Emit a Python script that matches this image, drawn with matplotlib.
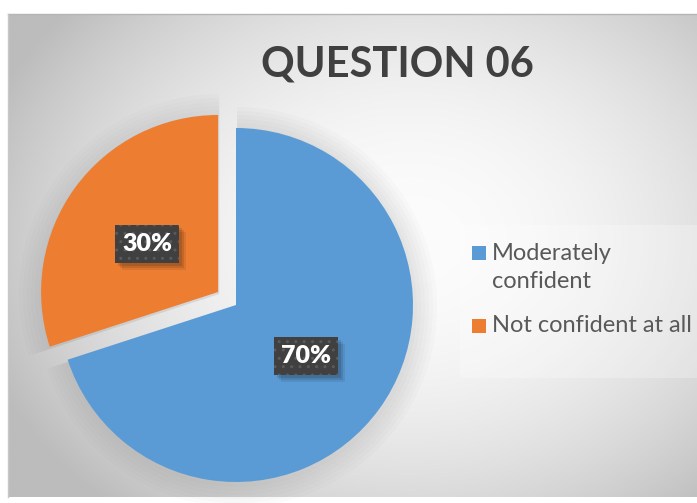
import numpy as np
import matplotlib
matplotlib.use("Agg")
import matplotlib.pyplot as plt
from matplotlib.patches import Wedge, Rectangle

labels = ["Moderately\nconfident", "Not confident at all"]
values = [70, 30]
colors = ["#5B9BD5", "#ED7D31"]
title = "QUESTION 06"

W, H = 697, 503
fig = plt.figure(figsize=(W / 100, H / 100), dpi=100)
ax = fig.add_axes([0, 0, 1, 1])

# background gradient (chart area)
x0, x1, ytop, ybot = 8, W, 14, 497
xs = np.linspace(x0, x1, 300)
ys = np.linspace(ytop, ybot, 220)
X, Y = np.meshgrid(xs, ys)
cx, cy = 410, 240
d2 = ((X - cx) / 420) ** 2 + ((Y - cy) / 330) ** 2
g = np.clip(252 - 55 * d2, 188, 255) / 255.0
img = np.dstack([g, g, g])
ax.imshow(img, extent=(x0, x1, H - ybot, H - ytop), origin="upper", aspect="auto", zorder=0)
ax.plot([x0, x1], [H - ytop, H - ytop], color="#b5b5b5", lw=1, zorder=1)
ax.plot([x0, x0], [H - ytop, H - ybot], color="#c8c8c8", lw=1, zorder=1)

# pie geometry
pcx, pcy, r = 236, H - 305, 177
explode_frac = [0, 0.125]
explode = [e * r for e in explode_frac]

# soft shadow halo
total = sum(values)
start = 90
for v, e in zip(values, explode):
    theta = 360 * v / total
    t1, t2 = start - theta, start
    mid = np.deg2rad((t1 + t2) / 2)
    ccx = pcx + e * np.cos(mid)
    ccy = pcy + e * np.sin(mid)
    for s in range(3, 24, 4):
        ax.add_patch(Wedge((ccx + 1, ccy - 2), r + s, t1, t2,
                           facecolor="#808080", edgecolor="none", alpha=0.03, zorder=2))
    start = t1

wedges, _ = ax.pie(values, colors=colors, startangle=90, counterclock=False,
                   explode=explode, radius=r, center=(pcx, pcy), frame=False,
                   wedgeprops=dict(linewidth=0))
for w in wedges:
    w.set_zorder(3)
ax.set_xlim(0, W)
ax.set_ylim(0, H)
ax.set_aspect("auto")
ax.axis("off")

# data labels (dark patterned boxes with soft shadow)
label_pos = [(306, 356), (147, 244)]
bw, bh = 64, 38
for v, (lx, ly) in zip(values, label_pos):
    txt = f"{v}%"
    yc = H - ly
    for k, a in [(7, 0.08), (5, 0.10), (3, 0.12)]:
        ax.add_patch(Rectangle((lx - bw / 2 + k, yc - bh / 2 - k), bw, bh,
                               facecolor="black", edgecolor="none", alpha=a, zorder=4))
    ax.add_patch(Rectangle((lx - bw / 2, yc - bh / 2), bw, bh, facecolor="#404040",
                           edgecolor="#5a5a5a", linewidth=0, hatch="..", zorder=4.5))
    ax.text(lx, yc, txt, ha="center", va="center", fontsize=18, fontweight="heavy",
            family="Lato", color="white", zorder=5)

# title
ax.text(397, H - 64, title, ha="center", va="center", fontsize=30, fontweight="bold",
        family="Lato", color="#404040", zorder=5)

# legend box (subtle)
ax.add_patch(Rectangle((460, H - 378), 237, 153, facecolor="white", edgecolor="none",
                       alpha=0.25, zorder=1))
leg_pos = [(253, [253, 281]), (326, [326])]
for lab, col, (sy, tys) in zip(labels, colors, leg_pos):
    ax.add_patch(Rectangle((472, H - sy - 7), 14, 14, facecolor=col, edgecolor="none", zorder=5))
    for line, ty in zip(lab.split("\n"), tys):
        ax.text(492, H - ty, line, ha="left", va="center", fontsize=17,
                family="Lato", color="#595959", zorder=5)

fig.savefig("out.png", dpi=100, facecolor="white")
